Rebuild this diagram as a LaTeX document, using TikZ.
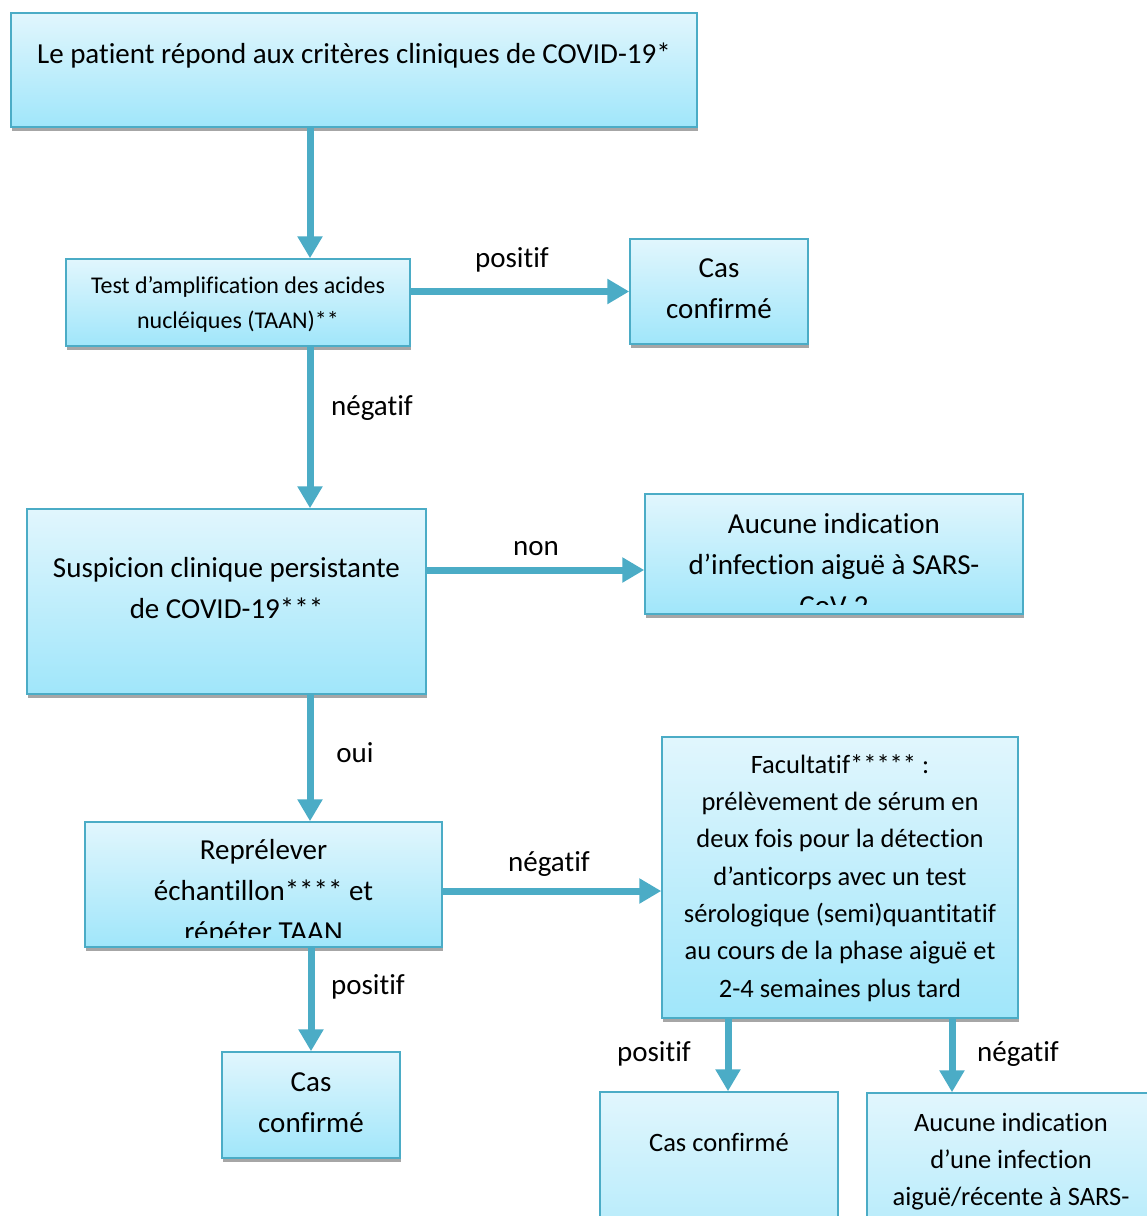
\documentclass[tikz,border=0pt]{standalone}
\usepackage{fontspec}
\setmainfont{Carlito}[Ligatures=NoCommon]
\usetikzlibrary{positioning,shadows,arrows.meta}
\definecolor{bord}{RGB}{75,172,198}
\definecolor{ftop}{RGB}{225,246,253}
\definecolor{fbot}{RGB}{160,230,250}

\begin{document}
\begin{tikzpicture}[x=1pt,y=-1pt,
    box/.style={draw=bord,line width=1.5pt,top color=ftop,bottom color=fbot,inner sep=0pt,
      drop shadow={shadow xshift=1pt,shadow yshift=-4pt,opacity=1,fill=black!35}},
    txt/.style={align=center,font=\fontsize{29}{41}\selectfont},
    small/.style={align=center,font=\fontsize{24}{35}\selectfont},
    mid/.style={align=center,font=\fontsize{26.5}{37.3}\selectfont},
    lbl/.style={font=\fontsize{29}{35}\selectfont},
    arr/.style={draw=bord,line width=7pt,-{Triangle[width=24pt,length=22pt]}}]
  \clip (0,0) rectangle (1147,1216);
  \coordinate (ax) at (310,0);
  % boxes
  \node (P) [box,minimum width=686pt,minimum height=114pt] at (354,70) {};
  \node (T) [box,minimum width=344pt,minimum height=87pt] at (238,302.5) {};
  \node (C1) [box,minimum width=178pt,minimum height=105pt] at (719,291.5) {};
  \node (S) [box,minimum width=399pt,minimum height=185pt] at (226.5,601.5) {};
  \node (N1) [box,minimum width=378pt,minimum height=120pt] at (834,554) {};
  \node (R) [box,minimum width=357pt,minimum height=125pt] at (263.5,884.5) {};
  \node (F) [box,minimum width=356pt,minimum height=281pt] at (840,877.5) {};
  \node (C2) [box,minimum width=178pt,minimum height=106pt] at (311,1105) {};
  \node (C3) [box,minimum width=238pt,minimum height=216pt] at (719,1200) {};
  \node (N2) [box,minimum width=288pt,minimum height=214pt] at (1011,1200) {};
  % texts
  \node (tP) [txt] at (354,56) {Le patient répond aux critères cliniques de COVID-19*};
  \node (tT) [small] at (238,304) {Test d’amplification des acides\\nucléiques (TAAN)**};
  \node (tC1) [txt] at (719,289) {Cas\\confirmé};
  \node (tS) [txt] at (226.5,588) {Suspicion clinique persistante\\de COVID-19***};
  \begin{scope}
    \clip (N1.north west) rectangle ([yshift=10pt]N1.south east);
    \node (tN1) [txt] at (834,565) {Aucune indication\\d’infection aiguë à SARS-\\CoV-2};
  \end{scope}
  \begin{scope}
    \clip (R.north west) rectangle ([yshift=10pt]R.south east);
    \node (tR) [txt] at (263.5,893) {Reprélever\\échantillon**** et\\répéter TAAN};
  \end{scope}
  \node (tF) [mid] at (840,878) {Facultatif***** :\\prélèvement de sérum en\\deux fois pour la détection\\d’anticorps avec un test\\sérologique (semi)quantitatif\\au cours de la phase aiguë et\\2-4 semaines plus tard};
  \node (tC2) [txt] at (311,1103) {Cas\\confirmé};
  \node (tC3) [mid] at (719,1142) {Cas confirmé};
  \node (tN2) [mid] at (1011,1178) {Aucune indication\\d’une infection\\aiguë/récente à SARS-\\CoV-2};
  % arrows
  \draw[arr] (P.south -| ax) -- (T.north -| ax);
  \draw[arr] (T.east |- C1.west) -- (C1.west);
  \draw[arr] (T.south -| ax) -- (S.north -| ax);
  \draw[arr] ([yshift=31.5pt]S.east) -- ([yshift=31.5pt]S.east -| N1.west);
  \draw[arr] (S.south -| ax) -- (R.north -| ax);
  \draw[arr] ([yshift=-6.5pt]R.east) -- ([yshift=-6.5pt]R.east -| F.west);
  \draw[arr] ([xshift=1pt]R.south -| ax) -- ([xshift=1pt]C2.north -| ax);
  \draw[arr] ([xshift=9pt]F.south -| C3.north) -- ([xshift=9pt]C3.north);
  \draw[arr] (F.south -| 952,0) -- (N2.north -| 952,0);
  % labels
  \node (l1) [lbl] at (512,260) {positif};
  \node (l2) [lbl] at (372,408) {négatif};
  \node (l3) [lbl] at (536,549) {non};
  \node (l4) [lbl] at (355,753) {oui};
  \node (l5) [lbl] at (549,864) {négatif};
  \node (l6) [lbl] at (368,987) {positif};
  \node (l7) [lbl] at (654,1054) {positif};
  \node (l8) [lbl] at (1018,1054) {négatif};
\end{tikzpicture}
\end{document}
